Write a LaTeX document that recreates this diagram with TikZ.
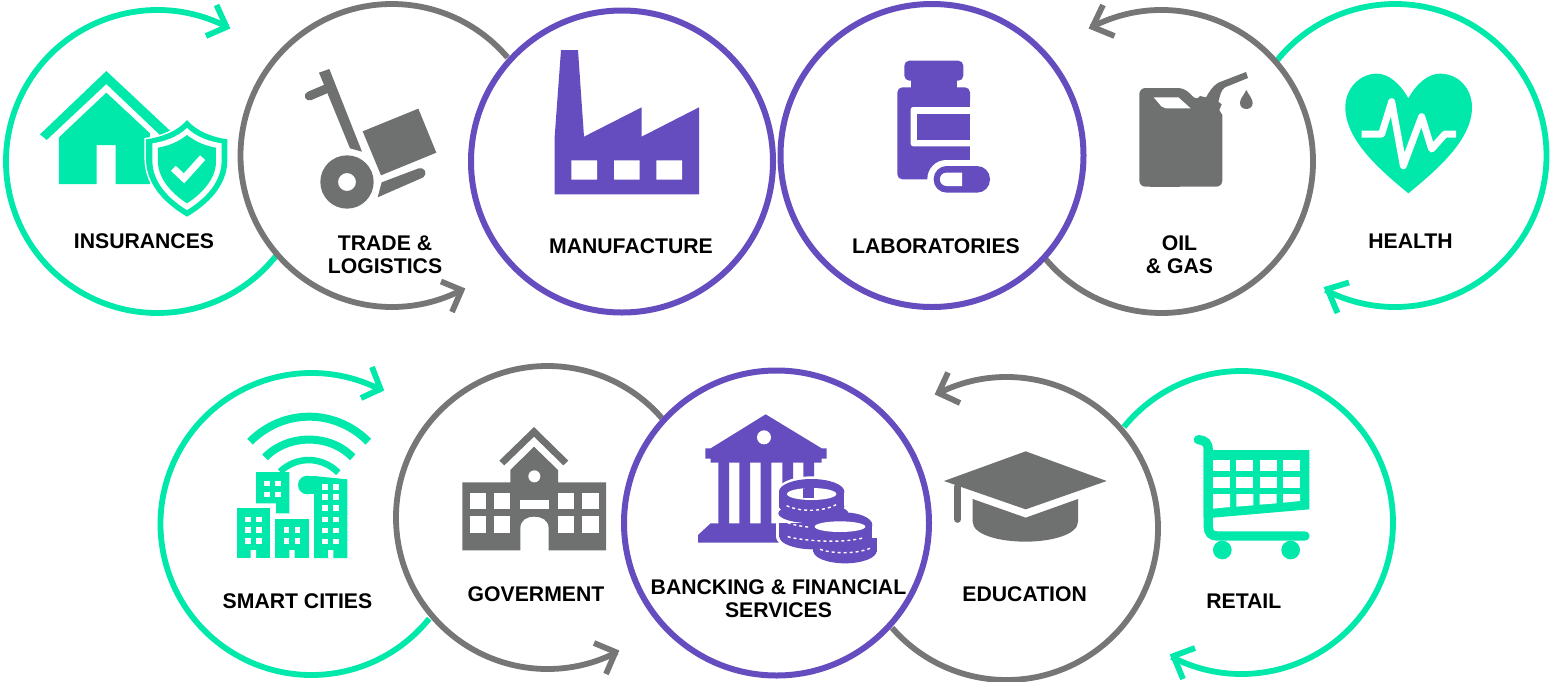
\documentclass[tikz,border=0pt]{standalone}
\usepackage{fontspec}
\setmainfont{Liberation Sans}
\definecolor{mint}{HTML}{00E9AB}
\definecolor{slate}{HTML}{6F7170}
\definecolor{ringgray}{HTML}{767676}
\definecolor{violet}{HTML}{654DBF}
\tikzset{
  zoomed/.style 2 args={shift={(#1pt,-#2pt)},x=0.33333pt,y=-0.33333pt},
  lbl/.style={font=\fontsize{21.2}{23.2}\selectfont\bfseries,text=black,inner sep=0pt,align=center},
  ringline/.style={line width=5.8pt},
  fullring/.style={circle,draw=violet,line width=6pt,inner sep=0pt,minimum size=#1}
}
% colour, cx, cy, r, start angle, end angle
\newcommand{\ringarc}[6]{\draw[ringline,#1] (#2pt,-#3pt) ++(#5:#4pt) arc[start angle=#5,end angle=#6,radius=#4pt];}
% colour, tip, leg a, leg b
\newcommand{\chevron}[7]{\draw[ringline,#1,miter limit=10] (#4pt,-#5pt) -- (#2pt,-#3pt) -- (#6pt,-#7pt);}
\begin{document}
\begin{tikzpicture}
\useasboundingbox (0,0) rectangle (1550pt,-681pt);
\fill[white] (0,0) rectangle (1550pt,-681pt);

% ---- green rings
\ringarc{mint}{157.5}{161.5}{151.5}{62.3}{321.4}
\chevron{mint}{226.5}{27}{216.5}{5}{206}{36}
\ringarc{mint}{1395}{155.5}{151.5}{141}{-117.3}
\chevron{mint}{1327.5}{289}{1349}{282.5}{1337.5}{313}
\ringarc{mint}{311.5}{524}{151}{62.4}{321.2}
\chevron{mint}{380.5}{389}{372}{367}{361}{398}
\ringarc{mint}{1241.5}{522.5}{151.5}{140.9}{-117.5}
\chevron{mint}{1173.5}{656}{1195}{648}{1183}{679}
% ---- gray rings
\ringarc{ringgray}{392}{155.5}{151.5}{40.3}{297.8}
\chevron{ringgray}{461.5}{290}{441}{281.5}{452}{312}
\ringarc{ringgray}{1161.5}{161.5}{151.5}{117.7}{-139.8}
\chevron{ringgray}{1092.5}{27}{1103}{5}{1114.5}{36}
\ringarc{ringgray}{547.5}{517.5}{151.5}{41}{297.3}
\chevron{ringgray}{615.5}{652}{594}{643}{606}{674}
\ringarc{ringgray}{1006.5}{528.5}{151.5}{117.2}{-139}
\chevron{ringgray}{938.5}{393}{948}{372.5}{960}{403}
% ---- violet rings
\node[fullring=302pt] (manuRing) at (622pt,-161.5pt) {};
\node[fullring=303pt] (labRing) at (932pt,-155.5pt) {};
\node[fullring=305pt] (bankRing) at (776.5pt,-523pt) {};

% ---- insurance icon
\begin{scope}[zoomed={0}{0}]
  \fill[mint] (120,403)--(319,213)--(510,392)--(480,405)--(319,252)--(140,420)--cycle;
  \fill[mint] (177,412)--(319,278)--(450,400)--(450,552)--(347,552)--(347,435)--(290,435)--(290,552)--(177,552)--cycle;
  \path[fill=mint,draw=white,line width=3pt] (561,360) .. controls (590,395) and (640,412) .. (682,418) -- (682,480) .. controls (682,560) and (620,615) .. (561,650) .. controls (502,615) and (440,560) .. (438,480) -- (438,418) .. controls (482,412) and (532,395) .. (561,360) -- cycle;
  \fill[mint] (561,360) .. controls (590,395) and (640,412) .. (682,418) -- (682,480) .. controls (682,560) and (620,615) .. (561,650) .. controls (502,615) and (440,560) .. (438,480) -- (438,418) .. controls (482,412) and (532,395) .. (561,360) -- cycle;
  \fill[white] (561,384) .. controls (590,412) and (630,425) .. (665,430) -- (665,480) .. controls (665,550) and (610,600) .. (561,630) .. controls (512,600) and (457,550) .. (457,480) -- (457,430) .. controls (492,425) and (532,412) .. (561,384) -- cycle;
  \fill[mint] (561,405) .. controls (590,428) and (620,438) .. (648,443) -- (648,485) .. controls (648,540) and (600,585) .. (561,610) .. controls (522,585) and (474,540) .. (474,485) -- (474,443) .. controls (502,438) and (532,428) .. (561,405) -- cycle;
  \draw[white,line width=7pt] (520,505)--(552,535)--(608,473);
\end{scope}
\node[lbl] (insLabel) at (144pt,-241.5pt) {INSURANCES};

% ---- trolley icon
\begin{scope}[zoomed={0}{0}]
  \fill[slate] (957,218)--(988,207)--(1086,455)--(1050,445)--cycle;
  \draw[slate,line width=9pt,line cap=round] (928,288)--(975,268);
  \fill[slate] (1088,394)--(1255,326)--(1309,458)--(1143,526)--cycle;
  \fill[slate] (1145,547)--(1256,505) .. controls (1272,500) and (1285,520) .. (1270,532) -- (1133,592)--cycle;
  \fill[slate,even odd rule] (1041,546) circle[radius=80] (1041,546) circle[radius=27];
\end{scope}
\node[lbl] (tradeLabel) at (385pt,-254.5pt) {TRADE \&\\LOGISTICS};

% ---- factory icon
\begin{scope}[zoomed={520}{0}]
  \fill[violet] (104,583)--(104,410)--(123,150)--(174,150)--(192,410)--(365,322)--(365,410)--(537,322)--(537,583)--cycle;
  \fill[white] (154,481) rectangle (231,539) (282,481) rectangle (359,539) (409,481) rectangle (486,539);
\end{scope}
\node[lbl] (manuLabel) at (631pt,-246.5pt) {MANUFACTURE};

% ---- bottle icon
\begin{scope}[zoomed={520}{0}]
  \fill[violet,rounded corners=5pt] (1153,242) rectangle (1330,182);
  \fill[violet] (1172,235) rectangle (1310,270);
  \fill[violet,rounded corners=5pt] (1132,538) rectangle (1350,262);
  \fill[white,rounded corners=2.5pt] (1172,439) rectangle (1380,321);
  \fill[violet] (1192,420) rectangle (1350,341);
  \fill[white] (1350,300) rectangle (1360,560);
  \fill[white,rounded corners=19pt] (1222,600) rectangle (1432,480);
  \fill[violet,rounded corners=13pt] (1241,578) rectangle (1410,498);
  \fill[white] (1280,518) -- (1326,518) -- (1326,558) -- (1280,558) .. controls (1253,558) and (1253,518) .. (1280,518) -- cycle;
\end{scope}
\node[lbl] (labLabel) at (936pt,-246.5pt) {LABORATORIES};

% ---- oil can icon
\begin{scope}[zoomed={1030}{0}]
  \fill[slate] (400,560) [rounded corners=6pt] -- (328,560) -- (328,264) -- (462,264) -- (503,303) [sharp corners] -- (510,288) -- (528,292)
    .. controls (538,275) and (548,258) .. (565,248) -- (648,216) -- (654,234) -- (585,262)
    .. controls (572,270) and (570,290) .. (565,305) -- (575,313) -- (568,330) -- (577,345) [rounded corners=6pt] -- (577,560) -- (400,560) [sharp corners] -- cycle;
  \fill[slate] (360,530) rectangle (450,560);
  \fill[white] (371,292)--(445,292)--(482,325)--(408,325)--(395,320)--cycle;
  \fill[slate] (649,270) .. controls (640,288) and (630,296) .. (630,309) .. controls (630,333) and (668,333) .. (668,309) .. controls (668,296) and (658,288) .. (649,270) -- cycle;
\end{scope}
\node[lbl] (oilLabel) at (1179.5pt,-254.5pt) {OIL\\\& GAS};

% ---- heart icon
\begin{scope}[zoomed={1030}{0}]
  \fill[mint] (1135,295) .. controls (1160,250) and (1195,221) .. (1230,221) .. controls (1285,221) and (1326,265) .. (1326,322) .. controls (1326,420) and (1220,510) .. (1135,580) .. controls (1050,510) and (946,420) .. (946,322) .. controls (946,265) and (990,221) .. (1040,221) .. controls (1075,221) and (1110,250) .. (1135,295) -- cycle;
  \draw[white,line width=7pt,line join=round] (995,402)--(1055,402)--(1085,305)--(1120,497)--(1175,350)--(1205,447)--(1245,402)--(1278,402);
\end{scope}
\node[lbl] (healthLabel) at (1410.5pt,-241.5pt) {HEALTH};

% ---- smart city icon
\begin{scope}[zoomed={150}{350}]
  \draw[mint,line width=8pt] (300,275) .. controls (400,175) and (555,175) .. (655,275);
  \draw[mint,line width=8pt] (345,322) .. controls (415,251) and (540,251) .. (608,322);
  \draw[mint,line width=6.5pt] (390,365) .. controls (440,318) and (515,318) .. (565,368);
  \fill[white] (385,375) rectangle (600,395);
  \fill[mint] (318,366)--(418,366)--(418,490)--(378,490)--(378,460)--(318,460)--cycle;
  \fill[mint] (260,474) rectangle (360,624);
  \fill[mint] (376,507) rectangle (476,624);
  \fill[mint] (492,378)--(592,388)--(592,624)--(492,624)--cycle;
  \fill[mint] (472,405) circle[radius=28];
  \fill[mint] (472,377) rectangle (500,433);
  \foreach \wx in {342,375} \foreach \wy in {392,425} \fill[white] (\wx,\wy) rectangle ++(17,17);
  \foreach \wx in {285,318} \foreach \wy in {500,532,565} \fill[white] (\wx,\wy) rectangle ++(17,17);
  \foreach \wx in {401,434} \foreach \wy in {532,565} \fill[white] (\wx,\wy) rectangle ++(17,17);
  \foreach \wx in {517,550} \foreach \wy in {403,432,466,500,533,566} \fill[white] (\wx,\wy) rectangle ++(17,17);
  \fill[white] (302,600) rectangle (318,624) (418,600) rectangle (434,624) (534,600) rectangle (550,624);
\end{scope}
\node[lbl] (smartLabel) at (297.5pt,-601.5pt) {SMART CITIES};

% ---- school icon
\begin{scope}[zoomed={150}{350}]
  \fill[slate] (1048,332)--(1152,231)--(1255,332)--(1240,346)--(1152,260)--(1063,346)--cycle;
  \fill[slate] (937,397)--(1081,397)--(1081,360)--(1152,290)--(1224,360)--(1224,397)--(1368,397)--(1368,601)--(1196,601)--(1196,535) .. controls (1196,510) and (1175,500) .. (1153,500) .. controls (1130,500) and (1111,510) .. (1111,535) -- (1111,601)--(937,601)--cycle;
  \foreach \wx/\wr in {961/1009,1033/1081,1224/1272,1297/1346} {
    \fill[white] (\wx,428) rectangle (\wr,476);
    \fill[white] (\wx,499) rectangle (\wr,548);
  }
  \fill[white] (1110,451) rectangle (1196,476);
  \fill[white] (1153,379) circle[radius=18];
\end{scope}
\node[lbl] (govLabel) at (536pt,-594.5pt) {GOVERMENT};

% ---- bank icon
\begin{scope}[zoomed={620}{350}]
  \fill[violet] (437,193)--(605,295)--(620,295)--(620,326)--(605,326)--(605,338)--(272,338)--(272,326)--(256,326)--(256,295)--(272,295)--cycle;
  \fill[white] (432,262) circle[radius=21];
  \fill[violet] (295,330) rectangle (327,525) (358,330) rectangle (390,525) (422,330) rectangle (454,525) (487,330) rectangle (519,525) (550,330) rectangle (582,525);
  \fill[violet] (272,520)--(500,520)--(500,578)--(234,578)--(234,555)--cycle;
  % coins, left stack
  \fill[white] (575,425) ellipse[x radius=105,y radius=46];
  \fill[white] (468,425) rectangle (692,560);
  \fill[white] (580,560) ellipse[x radius=112,y radius=46];
  \fill[violet] (575,425) ellipse[x radius=98,y radius=38];
  \fill[violet] (477,425) rectangle (673,470);
  \fill[violet] (575,470) ellipse[x radius=98,y radius=25];
  \fill[violet] (478,520) rectangle (685,560);
  \fill[violet] (580,490) ellipse[x radius=105,y radius=30];
  \fill[violet] (580,560) ellipse[x radius=102,y radius=38];
  \fill[white] (575,432) ellipse[x radius=74,y radius=18];
  \begin{scope}
    \clip (575,432) ellipse[x radius=74,y radius=18];
    \fill[violet] (550,410) rectangle (582,445);
  \end{scope}
  % coins, right stack
  \fill[violet] (670,525) ellipse[x radius=87,y radius=38];
  \fill[violet] (583,525) rectangle (757,590);
  \fill[violet] (580,565) rectangle (770,605);
  \fill[violet] (675,603) ellipse[x radius=95,y radius=37];
  \fill[white] (660,530) ellipse[x radius=76,y radius=16];
  % coin edge dots
  \draw[white,line width=1.4pt,dash pattern=on 3pt off 3pt] (500,467) .. controls (540,486) and (610,486) .. (650,463);
  \draw[white,line width=1.4pt,dash pattern=on 3pt off 3pt] (503,518) .. controls (520,525) and (550,530) .. (572,532);
  \draw[white,line width=1.4pt,dash pattern=on 3pt off 3pt] (503,560) .. controls (560,575) and (680,580) .. (735,562);
  \draw[white,line width=1.4pt,dash pattern=on 3pt off 3pt] (600,598) .. controls (640,612) and (710,612) .. (750,595);
\end{scope}
\node[lbl] (bankLabel) at (778.5pt,-598.5pt) {BANCKING \& FINANCIAL\\SERVICES};

% ---- graduation cap icon
\begin{scope}[zoomed={930}{350}]
  \draw[slate,line width=7pt,line cap=round] (83,410)--(83,508);
  \fill[slate] (128,447)--(287,503)--(444,447)--(444,515) .. controls (444,555) and (360,575) .. (287,575) .. controls (210,575) and (128,555) .. (128,515) -- cycle;
  \fill[slate] (42,393)--(287,304)--(530,393)--(287,478)--cycle;
\end{scope}
\node[lbl] (eduLabel) at (1024.7pt,-594.5pt) {EDUCATION};

% ---- cart icon
\begin{scope}[zoomed={930}{350}]
  \draw[mint,line width=9.3pt,line cap=round] (805,269) .. controls (825,270) and (835,280) .. (835,300) -- (835,530) .. controls (835,550) and (845,558) .. (862,558) -- (1125,558);
  \fill[mint] (821,300)--(1138,300)--(1138,478)--(849,503)--(821,503)--cycle;
  \foreach \wx/\wr in {849/900,919/970,989/1040,1059/1110} {
    \fill[white] (\wx,330) rectangle (\wr,362);
    \fill[white] (\wx,381) rectangle (\wr,413);
  }
  \fill[white] (849,432)--(900,432)--(900,471)--(849,476)--cycle;
  \fill[white] (919,432)--(970,432)--(970,466)--(919,470)--cycle;
  \fill[white] (989,432)--(1040,432)--(1040,460)--(989,464)--cycle;
  \fill[white] (1059,432)--(1110,432)--(1110,453)--(1059,458)--cycle;
  \fill[mint] (877,600) circle[radius=28];
  \fill[mint] (1082,600) circle[radius=28];
\end{scope}
\node[lbl] (retailLabel) at (1243.8pt,-601.5pt) {RETAIL};
\end{tikzpicture}
\end{document}
